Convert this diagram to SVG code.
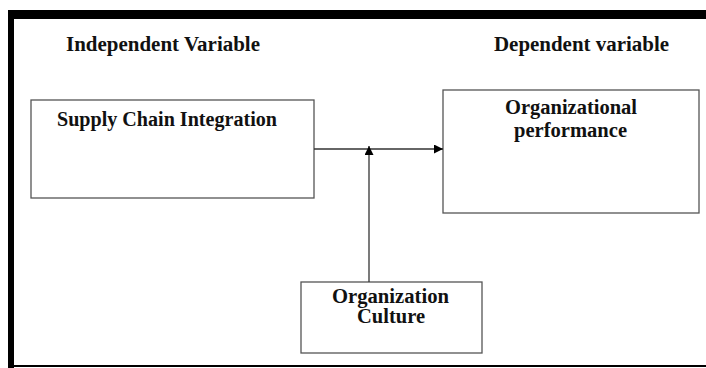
<svg xmlns="http://www.w3.org/2000/svg" width="706" height="368" viewBox="0 0 706 368">
<style>
.box{fill:#fff;stroke:#555;stroke-width:1.3}
.t{font-family:"Liberation Serif","DejaVu Serif",serif;font-weight:bold;font-size:20px;fill:#111}
.ln{stroke:#333;stroke-width:1.3;fill:none}
</style>
<defs>
<marker id="ah" viewBox="0 0 10 10" refX="10" refY="5" markerWidth="10" markerHeight="9" markerUnits="userSpaceOnUse" orient="auto">
<path d="M0,0 L10,5 L0,10 z" fill="#000"/>
</marker>
</defs>
<rect width="706" height="368" fill="#fff"/>
<g id="frame">
<rect x="8" y="10" width="698" height="9" fill="#000"/>
<rect x="8" y="10" width="6" height="358" fill="#000"/>
<rect x="8" y="365" width="698" height="2" fill="#000"/>
</g>
<g id="labels">
<text class="t" x="66" y="51" textLength="194" lengthAdjust="spacingAndGlyphs">Independent Variable</text>
<text class="t" x="494" y="51" textLength="175" lengthAdjust="spacingAndGlyphs">Dependent variable</text>
</g>
<g id="sci">
<rect class="box" x="31" y="100" width="283" height="98"/>
<text class="t" x="57" y="126" textLength="220" lengthAdjust="spacingAndGlyphs">Supply Chain Integration</text>
</g>
<g id="op">
<rect class="box" x="443" y="90" width="256" height="123"/>
<text class="t" x="505" y="114" textLength="132" lengthAdjust="spacingAndGlyphs">Organizational</text>
<text class="t" x="514" y="137" textLength="113" lengthAdjust="spacingAndGlyphs">performance</text>
</g>
<g id="oc">
<rect class="box" x="301" y="282" width="181" height="71"/>
<text class="t" x="332" y="303" textLength="117" lengthAdjust="spacingAndGlyphs">Organization</text>
<text class="t" x="357" y="323" textLength="68" lengthAdjust="spacingAndGlyphs">Culture</text>
</g>
<g id="connectors">
<line class="ln" x1="314" y1="149" x2="443" y2="149" marker-end="url(#ah)"/>
<line class="ln" x1="369" y1="282" x2="369" y2="146" marker-end="url(#ah)"/>
</g>
</svg>
